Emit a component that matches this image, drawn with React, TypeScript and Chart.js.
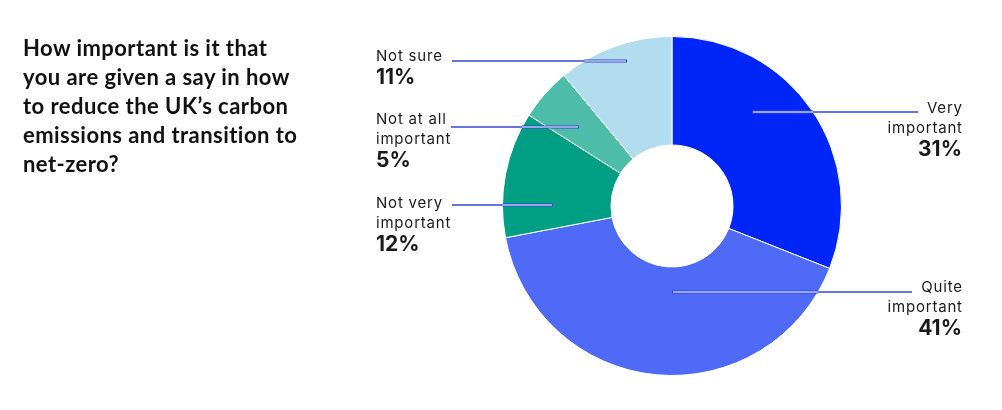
import { useEffect, useRef } from 'react';
import { Chart, registerables } from 'chart.js';

Chart.register(...registerables);

const question =
  'How important is it that\nyou are given a say in how\nto reduce the UK\u2019s carbon\nemissions and transition to\nnet-zero?';

const categories = [
  'Very important',
  'Quite important',
  'Not very important',
  'Not at all important',
  'Not sure',
];
const shares = [31, 41, 12, 5, 11];
const sliceColors = ['#0026f7', '#4e6af7', '#009e82', '#4dbca8', '#b2ddef'];
// how each category name is broken in the callout
const labelLines = [
  ['Very', 'important'],
  ['Quite', 'important'],
  ['Not very', 'important'],
  ['Not at all', 'important'],
  ['Not sure'],
];

// callout placement, px relative to the doughnut centre
const callouts = [
  { side: 'right', dy: -94, startDx: 80, endDx: 246, textDx: 290, textDy: -98 },
  { side: 'right', dy: 86, startDx: 0, endDx: 240, textDx: 290, textDy: 81 },
  { side: 'left', dy: -1, startDx: -119, endDx: -220, textDx: -296, textDy: -3 },
  { side: 'left', dy: -79, startDx: -93, endDx: -221, textDx: -296, textDy: -87 },
  { side: 'left', dy: -145, startDx: -45, endDx: -220, textDx: -296, textDy: -150 },
];

const LINE_BLUE = '#3348d4';
const TITLE_FONT = 'Lato, "Noto Sans", sans-serif';
const LABEL_FONT = 'Inter, "Noto Sans", sans-serif';

const calloutPlugin = {
  id: 'callouts',
  afterDatasetsDraw(chart: Chart) {
    const ctx = chart.ctx as any;
    const meta = chart.getDatasetMeta(0);
    meta.data.forEach((el, i) => {
      const arc = el as any;
      const { x: cx, y: cy, outerRadius } = arc.getProps(['x', 'y', 'outerRadius'], true);
      const c = callouts[i];
      const y = cy + c.dy;
      const x0 = cx + c.startDx;
      const x1 = cx + c.endDx;
      const half = Math.sqrt(Math.max(outerRadius * outerRadius - c.dy * c.dy, 0));
      const edge = c.side === 'right' ? cx + half : cx - half;

      ctx.save();
      ctx.lineCap = 'butt';
      // part inside the ring: white core with blue edges
      ctx.beginPath();
      ctx.moveTo(x0, y);
      ctx.lineTo(edge, y);
      ctx.strokeStyle = LINE_BLUE;
      ctx.lineWidth = 3;
      ctx.stroke();
      ctx.beginPath();
      ctx.moveTo(x0 + (c.side === 'right' ? 1 : -1), y);
      ctx.lineTo(edge, y);
      ctx.strokeStyle = '#ffffff';
      ctx.lineWidth = 1;
      ctx.stroke();
      // part outside the ring
      ctx.beginPath();
      ctx.moveTo(edge, y);
      ctx.lineTo(x1, y);
      ctx.strokeStyle = LINE_BLUE;
      ctx.lineWidth = 1.3;
      ctx.stroke();

      const right = c.side === 'right';
      ctx.textAlign = right ? 'right' : 'left';
      ctx.textBaseline = 'middle';
      ctx.fillStyle = '#1a1a1a';
      const tx = cx + c.textDx;
      let ty = cy + c.textDy;
      ctx.font = `15px ${LABEL_FONT}`;
      ctx.letterSpacing = '0.8px';
      labelLines[i].forEach((line) => {
        ctx.fillText(line, right ? tx + 0.8 : tx, ty);
        ty += 20;
      });
      ctx.letterSpacing = '0px';
      ctx.font = `700 21px ${LABEL_FONT}`;
      ctx.fillText(`${shares[i]}%`, tx, ty + 2);
      ctx.restore();
    });
  },
};

export default function App() {
  const canvasRef = useRef<HTMLCanvasElement>(null);

  useEffect(() => {
    document.body.style.margin = '0';
    if (!canvasRef.current) return;
    const chart = new Chart(canvasRef.current, {
      type: 'doughnut',
      data: {
        labels: categories,
        datasets: [
          {
            data: shares,
            backgroundColor: sliceColors,
            borderColor: '#ffffff',
            borderWidth: 1,
          },
        ],
      },
      options: {
        responsive: false,
        animation: false,
        cutout: '36%',
        layout: { padding: { left: 502, right: 160, top: 36, bottom: 34 } },
        plugins: {
          legend: { display: false },
          tooltip: { enabled: false },
        },
      },
      plugins: [calloutPlugin],
    });
    return () => chart.destroy();
  }, []);

  return (
    <div style={{ position: 'relative', width: 1002, height: 410, background: '#fff' }}>
      <canvas ref={canvasRef} width={1002} height={410} style={{ position: 'absolute', left: 0, top: 0 }} />
      <div
        style={{
          position: 'absolute',
          left: 23,
          top: 33,
          whiteSpace: 'pre-line',
          fontFamily: TITLE_FONT,
          fontWeight: 700,
          fontSize: 22,
          lineHeight: '29px',
          letterSpacing: '0.45px',
          color: '#111111',
        }}
      >
        {question}
      </div>
    </div>
  );
}
